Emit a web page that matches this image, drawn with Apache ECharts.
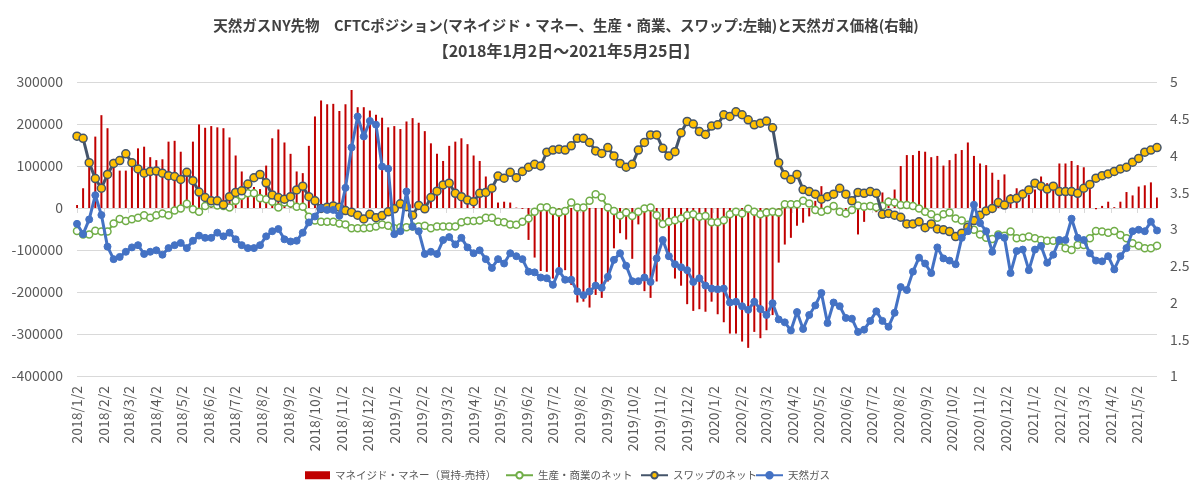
<!DOCTYPE html>
<html>
<head>
<meta charset="utf-8">
<script src="https://cdn.jsdelivr.net/npm/echarts@6/dist/echarts.min.js"></script>
<style>
html,body{margin:0;padding:0;background:#fff;}
#chart{width:1200px;height:497px;}
</style>
</head>
<body>
<div id="chart"></div>
<script>
// ---- data (weekly, Tuesdays from 2018/1/2 to 2021/5/25) ----
const startDate = '2018/1/2';
const endDate = '2021/5/25';

const seriesNames = ['マネイジド・マネー（買持-売持）', '生産・商業のネット', 'スワップのネット', '天然ガス'];

// Managed money net (left axis)
const moneyManager = [
  7000, 47000, 100000, 170000, 221000, 190000, 117000, 89000, 89000, 102000,
  142000, 146000, 121000, 114000, 116000, 158000, 160000, 134000, 85000, 158000,
  199000, 191000, 195000, 192000, 190000, 168000, 125000, 87000, 63000, 50000,
  45000, 101000, 166000, 187000, 156000, 129000, 87000, 83000, 148000, 218000,
  256000, 247000, 248000, 231000, 247000, 281000, 240000, 240000, 232000, 222000,
  215000, 192000, 195000, 188000, 206000, 214000, 203000, 183000, 154000, 129000,
  112000, 148000, 158000, 166000, 152000, 125000, 112000, 75000, 51000, 13000,
  15000, 13000, 1000, -2000, -76000, -118000, -150000, -152000, -168000, -148000,
  -148000, -183000, -225000, -223000, -237000, -207000, -214000, -175000, -96000, -60000,
  -75000, -121000, -39000, -198000, -214000, -175000, -40000, -122000, -168000, -185000,
  -229000, -245000, -241000, -247000, -223000, -253000, -272000, -299000, -299000, -318000,
  -333000, -295000, -310000, -291000, -255000, -130000, -87000, -71000, -42000, -35000,
  -20000, 17000, 52000, 5000, -5000, -10000, -9000, -5000, -63000, -33000,
  5000, -10000, 37000, 25000, 44000, 100000, 126000, 126000, 136000, 134000,
  121000, 124000, 101000, 114000, 129000, 138000, 156000, 124000, 106000, 102000,
  84000, 67000, 80000, 33000, 47000, 44000, 31000, 44000, 75000, 59000,
  59000, 106000, 106000, 112000, 102000, 97000, 45000, -3000, 5000, 15000,
  2000, 15000, 38000, 30000, 51000, 54000, 61000, 25000
];

// Producer / merchant net (left axis)
const producer = [
  -55000, -63000, -63000, -54000, -56000, -56000, -37000, -26000, -31000, -27000,
  -23000, -17000, -23000, -17000, -13000, -17000, -6000, -1000, 10000, -3000,
  -9000, 5000, 11000, 6000, 5000, 1000, 17000, 29000, 35000, 35000,
  23000, 21000, 15000, 1000, 13000, 11000, 3000, 3000, -21000, -30000,
  -33000, -33000, -33000, -37000, -39000, -48000, -48000, -48000, -47000, -44000,
  -39000, -42000, -48000, -46000, -46000, -44000, -44000, -42000, -48000, -44000,
  -44000, -44000, -44000, -34000, -31000, -31000, -30000, -23000, -23000, -33000,
  -34000, -39000, -40000, -33000, -25000, -9000, 1000, 2000, -7000, -11000,
  -7000, 13000, 1000, 1000, 17000, 33000, 25000, 1000, -7000, -18000,
  -11000, -19000, -9000, -1000, 1000, -17000, -38000, -33000, -29000, -25000,
  -17000, -15000, -21000, -19000, -34000, -34000, -29000, -15000, -9000, -13000,
  -2000, -9000, -15000, -11000, -9000, -11000, 9000, 9000, 9000, 17000,
  11000, -5000, -9000, -5000, 5000, -9000, -13000, -5000, 6000, 3000,
  5000, 2000, 5000, 15000, 13000, 7000, 7000, 5000, -1000, -9000,
  -15000, -23000, -15000, -11000, -25000, -30000, -40000, -52000, -63000, -71000,
  -74000, -63000, -66000, -56000, -72000, -71000, -68000, -72000, -76000, -78000,
  -78000, -78000, -96000, -100000, -88000, -88000, -72000, -55000, -56000, -59000,
  -55000, -64000, -72000, -84000, -90000, -96000, -96000, -90000
];

// Swap dealer net (left axis)
const swap = [
  171000, 166000, 108000, 70000, 47000, 80000, 106000, 113000, 129000, 108000,
  93000, 83000, 87000, 88000, 83000, 77000, 75000, 68000, 85000, 65000,
  38000, 25000, 17000, 17000, 8000, 27000, 37000, 41000, 57000, 72000,
  80000, 60000, 31000, 25000, 21000, 27000, 43000, 52000, 27000, 17000,
  -1000, 2000, 5000, 2000, -6000, -10000, -17000, -26000, -15000, -23000,
  -18000, -9000, -2000, 10000, 3000, -17000, 6000, -2000, 25000, 40000,
  55000, 59000, 35000, 27000, 19000, 15000, 35000, 37000, 47000, 76000,
  71000, 85000, 72000, 87000, 97000, 104000, 100000, 133000, 138000, 140000,
  138000, 148000, 166000, 166000, 156000, 136000, 130000, 144000, 124000, 106000,
  97000, 104000, 138000, 156000, 174000, 174000, 142000, 124000, 134000, 179000,
  206000, 200000, 182000, 175000, 195000, 198000, 222000, 218000, 229000, 222000,
  210000, 198000, 202000, 207000, 191000, 108000, 79000, 68000, 80000, 44000,
  39000, 33000, 21000, 27000, 33000, 47000, 33000, 17000, 37000, 35000,
  39000, 35000, -15000, -13000, -17000, -22000, -38000, -38000, -33000, -47000,
  -38000, -50000, -52000, -56000, -68000, -60000, -46000, -30000, -17000, -7000,
  -1000, 13000, 7000, 21000, 23000, 33000, 43000, 59000, 52000, 45000,
  52000, 39000, 39000, 39000, 35000, 47000, 56000, 71000, 77000, 81000,
  87000, 93000, 97000, 109000, 118000, 133000, 138000, 144000
];

// Natural gas price (right axis)
const gasPrice = [
  3.07, 2.93, 3.13, 3.46, 3.19, 2.76, 2.59, 2.62, 2.69, 2.75,
  2.78, 2.66, 2.69, 2.71, 2.65, 2.74, 2.78, 2.81, 2.74, 2.84,
  2.91, 2.88, 2.88, 2.95, 2.90, 2.95, 2.86, 2.78, 2.74, 2.74,
  2.78, 2.90, 2.97, 3.00, 2.86, 2.83, 2.84, 2.95, 3.09, 3.17,
  3.28, 3.26, 3.26, 3.18, 3.56, 4.11, 4.53, 4.26, 4.47, 4.42,
  3.85, 3.82, 2.93, 2.97, 3.51, 3.03, 2.97, 2.66, 2.69, 2.66,
  2.85, 2.89, 2.79, 2.88, 2.75, 2.67, 2.71, 2.59, 2.47, 2.59,
  2.53, 2.67, 2.63, 2.59, 2.42, 2.41, 2.34, 2.33, 2.24, 2.43,
  2.31, 2.31, 2.15, 2.10, 2.15, 2.23, 2.20, 2.35, 2.58, 2.67,
  2.50, 2.29, 2.29, 2.34, 2.28, 2.60, 2.85, 2.63, 2.52, 2.48,
  2.44, 2.28, 2.33, 2.23, 2.19, 2.18, 2.19, 2.00, 2.01, 1.95,
  1.90, 2.01, 1.91, 1.83, 1.99, 1.77, 1.73, 1.62, 1.87, 1.64,
  1.83, 1.96, 2.13, 1.72, 2.00, 1.95, 1.79, 1.78, 1.60, 1.63,
  1.75, 1.88, 1.75, 1.67, 1.86, 2.21, 2.17, 2.42, 2.61, 2.53,
  2.40, 2.75, 2.60, 2.57, 2.52, 2.88, 2.97, 3.33, 3.08, 2.97,
  2.69, 2.91, 2.88, 2.40, 2.70, 2.72, 2.44, 2.72, 2.77, 2.54,
  2.65, 2.85, 2.85, 3.14, 2.88, 2.85, 2.67, 2.57, 2.56, 2.63,
  2.45, 2.63, 2.74, 2.97, 2.99, 2.97, 3.10, 2.98
];

const leftAxis = { min: -400000, max: 300000, interval: 100000 };
const rightAxis = { min: 1, max: 5, interval: 0.5 };

const titleLine1 = '天然ガスNY先物　CFTCポジション(マネイジド・マネー、生産・商業、スワップ:左軸)と天然ガス価格(右軸)';
const titleLine2 = '【2018年1月2日～2021年5月25日】';

// ---- build daily category axis ----
function parseD(s){ const p = s.split('/').map(Number); return Date.UTC(p[0], p[1]-1, p[2]); }
const DAY = 86400000;
const t0 = parseD(startDate), t1 = parseD(endDate);
const days = [];
for (let t = t0; t <= t1; t += DAY) {
  const d = new Date(t);
  days.push(d.getUTCFullYear() + '/' + (d.getUTCMonth()+1) + '/' + d.getUTCDate());
}
function weekly(arr){ return arr.map((v,i) => [days[i*7], v]); }
const isLabelDay = (idx, val) => val.split('/')[2] === '2';

const FONT = "'Noto Sans CJK JP', 'Noto Sans', sans-serif";
const chart = echarts.init(document.getElementById('chart'), null, {renderer:'canvas'});

const legendBase = {
  top: 470, orient: 'horizontal', itemGap: 0, padding: 0,
  textStyle: { fontFamily: FONT, fontSize: 10.5, color: '#595959' },
  itemHeight: 8, selectedMode: false
};

chart.setOption({
  animation: false,
  backgroundColor: '#fff',
  title: [
    { text: titleLine1, left: 561, top: 13, textAlign: 'center',
      textStyle: { fontFamily: FONT, fontSize: 14.5, fontWeight: 'bold', color: '#404040' } },
    { text: titleLine2, left: 561, top: 38, textAlign: 'center',
      textStyle: { fontFamily: FONT, fontSize: 16, fontWeight: 'bold', color: '#404040' } }
  ],
  legend: [
    Object.assign({}, legendBase, { left: 305, itemWidth: 25, data: [{ name: seriesNames[0], icon: 'rect' }] }),
    Object.assign({}, legendBase, { left: 505, itemWidth: 27, data: [seriesNames[1]] }),
    Object.assign({}, legendBase, { left: 640, itemWidth: 27, data: [seriesNames[2]] }),
    Object.assign({}, legendBase, { left: 755, itemWidth: 27, data: [seriesNames[3]] })
  ],
  grid: { left: 77, right: 43, top: 82, bottom: 121, containLabel: false },
  xAxis: {
    type: 'category', data: days, boundaryGap: false,
    axisLine: { show: true, lineStyle: { color: '#D9D9D9', width: 1 } },
    axisTick: { show: true, interval: isLabelDay, length: 5, lineStyle: { color: '#D9D9D9' } },
    axisLabel: { interval: isLabelDay, rotate: 90, margin: 10, fontFamily: FONT, fontSize: 14, color: '#595959' },
    splitLine: { show: false }
  },
  yAxis: [
    { type: 'value', min: leftAxis.min, max: leftAxis.max, interval: leftAxis.interval, position: 'left',
      axisLine: { show: false }, axisTick: { show: false },
      axisLabel: { margin: 14, fontFamily: FONT, fontSize: 14, color: '#595959', formatter: v => String(v) },
      splitLine: { show: true, lineStyle: { color: '#D9D9D9', width: 1 } } },
    { type: 'value', min: rightAxis.min, max: rightAxis.max, interval: rightAxis.interval, position: 'right',
      axisLine: { show: false }, axisTick: { show: false },
      axisLabel: { margin: 13, fontFamily: FONT, fontSize: 14, color: '#595959', formatter: v => String(v) },
      splitLine: { show: false } }
  ],
  series: [
    { name: seriesNames[0], type: 'bar', yAxisIndex: 0, barWidth: 2, data: weekly(moneyManager),
      itemStyle: { color: '#C00000' }, z: 1 },
    { name: seriesNames[1], type: 'line', yAxisIndex: 0, data: weekly(producer),
      showAllSymbol: true, symbol: 'circle', symbolSize: 7,
      lineStyle: { color: '#70AD47', width: 2 },
      itemStyle: { color: '#FFFFFF', borderColor: '#70AD47', borderWidth: 1.5 }, z: 2 },
    { name: seriesNames[2], type: 'line', yAxisIndex: 0, data: weekly(swap),
      showAllSymbol: true, symbol: 'circle', symbolSize: 8,
      lineStyle: { color: '#44546A', width: 3 },
      itemStyle: { color: '#FFC000', borderColor: '#44546A', borderWidth: 1.5 }, z: 3 },
    { name: seriesNames[3], type: 'line', yAxisIndex: 1, data: weekly(gasPrice),
      showAllSymbol: true, symbol: 'circle', symbolSize: 7,
      lineStyle: { color: '#4472C4', width: 3 },
      itemStyle: { color: '#4472C4', borderColor: '#4472C4', borderWidth: 1 }, z: 4 }
  ]
});
</script>
</body>
</html>
